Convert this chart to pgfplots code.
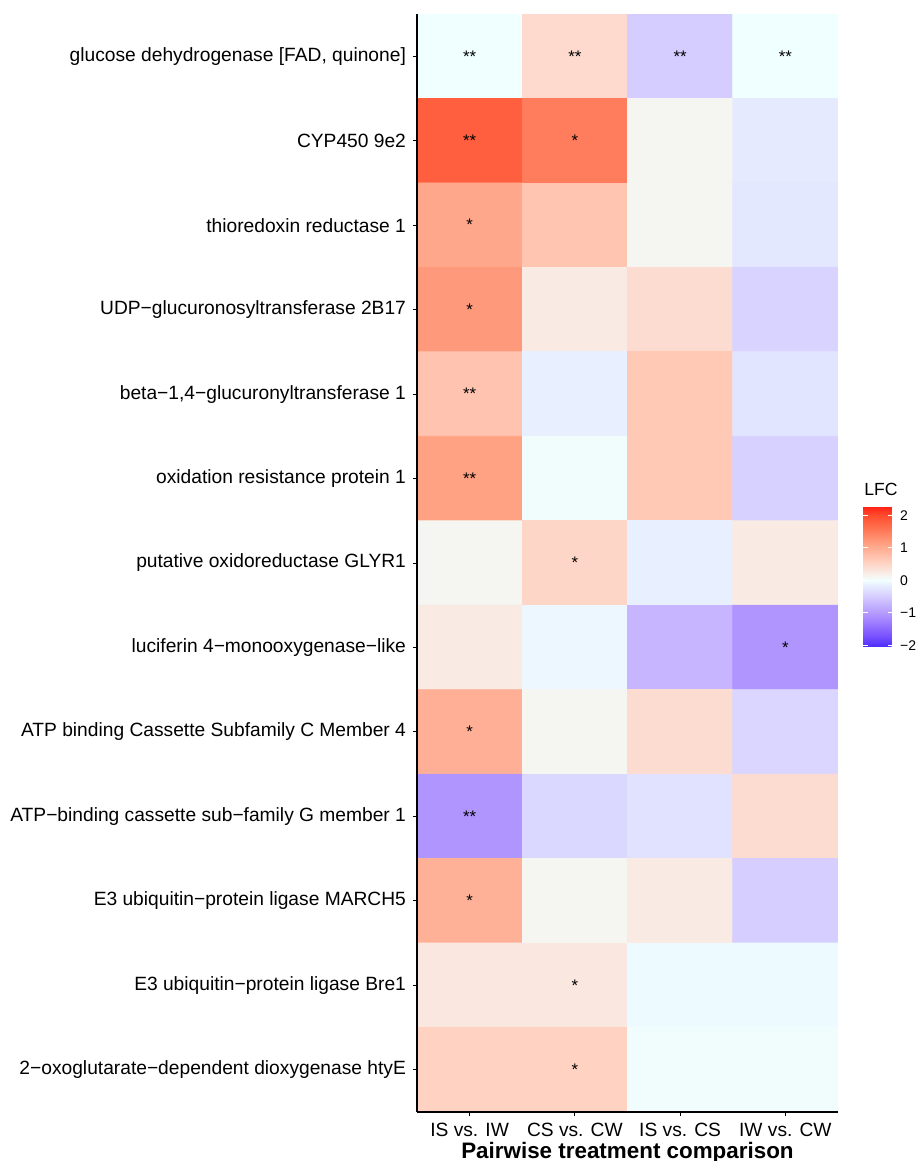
\documentclass[border=0pt]{standalone}
\usepackage{pgfplots}
\usepackage{pgfplotstable}
\pgfplotsset{compat=1.18}
\usepackage{fontspec}
\setmainfont{Liberation Sans}

\pgfplotstableread{
x y v
0 0 0.00
1 0 0.45
2 0 -0.50
3 0 0.00
0 1 1.80
1 1 1.50
2 1 0.12
3 1 -0.20
0 2 1.05
1 2 0.70
2 2 0.12
3 2 -0.22
0 3 1.20
1 3 0.25
2 3 0.42
3 3 -0.42
0 4 0.72
1 4 -0.15
2 4 0.65
3 4 -0.25
0 5 1.12
1 5 0.03
2 5 0.65
3 5 -0.45
0 6 0.12
1 6 0.50
2 6 -0.15
3 6 0.25
0 7 0.25
1 7 -0.08
2 7 -0.72
3 7 -1.05
0 8 0.95
1 8 0.12
2 8 0.42
3 8 -0.40
0 9 -1.05
1 9 -0.38
2 9 -0.28
3 9 0.42
0 10 0.93
1 10 0.12
2 10 0.25
3 10 -0.48
0 11 0.28
1 11 0.28
2 11 -0.05
3 11 -0.05
0 12 0.55
1 12 0.55
2 12 0.03
3 12 0.02
}\heat

\pgfplotstableread{
x y s
0 0 **
1 0 **
2 0 **
3 0 **
0 1 **
1 1 *
0 2 *
0 3 *
0 4 **
0 5 **
1 6 *
3 7 *
0 8 *
0 9 **
0 10 *
1 11 *
1 12 *
}\stars

\pgfplotsset{
  colormap={lfc}{
    rgb255(0pt)=(77,44,255);
    rgb255(34pt)=(121,82,255);
    rgb255(91pt)=(171,140,255);
    rgb255(148pt)=(209,197,255);
    rgb255(187pt)=(230,236,255);
    rgb255(205pt)=(240,255,255);
    rgb255(223pt)=(248,240,235);
    rgb255(262pt)=(255,208,191);
    rgb255(319pt)=(255,159,129);
    rgb255(376pt)=(255,104,70);
    rgb255(405pt)=(255,75,45);
    rgb255(433pt)=(255,30,20)
  }
}

\begin{document}
\begin{tikzpicture}
\begin{axis}[
  at={(0,0)}, anchor=south west,
  width=210.5pt, height=549pt, scale only axis,
  xmin=-0.5, xmax=3.5, ymin=-0.5, ymax=12.5,
  y dir=reverse,
  enlargelimits=false,
  axis on top,
  colormap name=lfc,
  point meta min=-2.05, point meta max=2.28,
  axis x line*=bottom, axis y line*=left,
  axis line style={-, line width=1.4pt, black},
  tick align=outside, major tick length=2pt,
  tick style={black, line width=0.5pt},
  xtick={0,1,2,3},
  xticklabels={IS vs. IW, CS vs. CW, IS vs. CS, IW vs. CW},
  ytick={0,...,12},
  yticklabels={
    {glucose dehydrogenase [FAD, quinone]},
    {CYP450 9e2},
    {thioredoxin reductase 1},
    {UDP−glucuronosyltransferase 2B17},
    {beta−1,4−glucuronyltransferase 1},
    {oxidation resistance protein 1},
    {putative oxidoreductase GLYR1},
    {luciferin 4−monooxygenase−like},
    {ATP binding Cassette Subfamily C Member 4},
    {ATP−binding cassette sub−family G member 1},
    {E3 ubiquitin−protein ligase MARCH5},
    {E3 ubiquitin−protein ligase Bre1},
    {2−oxoglutarate−dependent dioxygenase htyE}},
  ticklabel style={font=\fontsize{9.6}{11}\selectfont, text=black},
  xlabel={Pairwise treatment comparison},
  xlabel style={font=\fontsize{11.2}{13}\selectfont\bfseries, yshift=4pt},
  colorbar,
  colorbar style={
    at={(parent axis.south east)},
    anchor=south west,
    xshift=4pt, yshift=232.5pt,
    width=15pt, height=70.5pt, scale only axis,
    ymin=-2.05, ymax=2.28,
    ytick={-2,-1,0,1,2},
    yticklabels={−2,−1,0,1,2},
    ytick pos=both, yticklabel pos=right,
    tick align=inside, major tick length=2.5pt,
    tick style={white, line width=0.5pt},
    axis line style={draw=none},
    yticklabel style={font=\fontsize{7}{8}\selectfont, text=black},
  },
]
\addplot[matrix plot*, mesh/cols=4, point meta=explicit] table[x=x, y=y, meta=v]{\heat};
\addplot[only marks, mark=none, nodes near coords, point meta=explicit symbolic,
  nodes near coords align=center,
  every node near coord/.append style={font=\fontsize{8.4}{9}\selectfont, text=black, inner sep=0pt}]
  table[x=x, y=y, meta=s]{\stars};
\end{axis}
\node[anchor=base west, font=\fontsize{8.8}{10}\selectfont, inner sep=0pt] at (223.5pt,308pt) {LFC};
\pgfresetboundingbox
\path (-208.5pt,-24.5pt) rectangle (251pt,556pt);
\end{tikzpicture}
\end{document}
